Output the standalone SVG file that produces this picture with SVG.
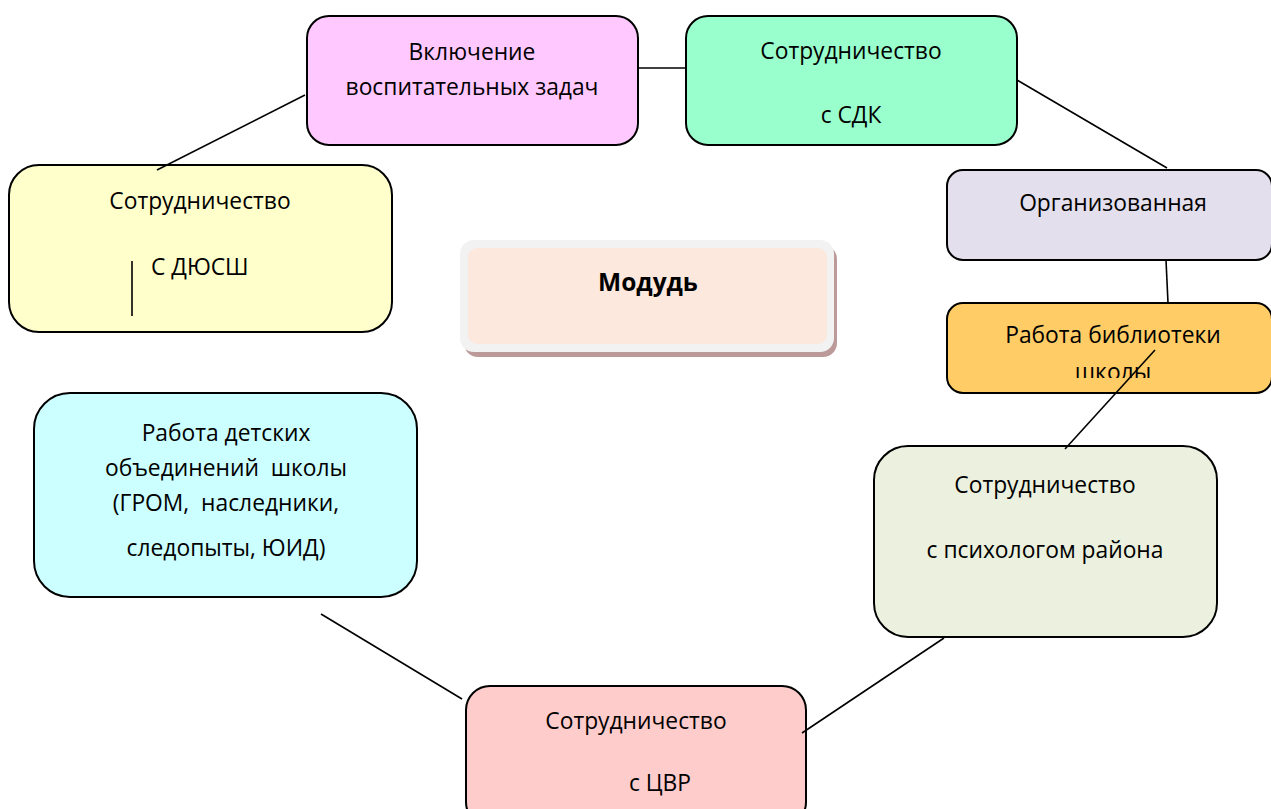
<svg xmlns="http://www.w3.org/2000/svg" width="1271" height="809" viewBox="0 0 1271 809">
<defs>
<style>
.box{stroke:#000;stroke-width:2}
.t{font-family:"Open Sans","Noto Sans","Liberation Sans",sans-serif;font-size:22.8px;fill:#000;text-anchor:middle}
.c{stroke:#000;stroke-width:1.6;fill:none}
</style>
<clipPath id="clipLib"><rect x="947" y="303" width="330" height="75"/></clipPath>
</defs>
<rect width="1271" height="809" fill="#fff"/>
<g id="node-vkl">
<rect class="box" x="307" y="16" width="331" height="129" rx="22" fill="#ffc9ff"/>
<text class="t" x="472" y="60">Включение</text>
<text class="t" x="472" y="95">воспитательных задач</text>
</g>
<g id="node-sdk">
<rect class="box" x="686" y="16" width="331" height="129" rx="22" fill="#99ffcc"/>
<text class="t" x="851" y="59">Сотрудничество</text>
<text class="t" x="851" y="123">с СДК</text>
</g>
<g id="node-dyussh">
<rect class="box" x="9" y="165" width="383" height="167" rx="30" fill="#ffffcc"/>
<text class="t" x="200" y="209">Сотрудничество</text>
<text class="t" x="151" y="275" style="text-anchor:start">С ДЮСШ</text>
<line class="c" x1="132" y1="261" x2="132" y2="316"/>
</g>
<g id="node-org">
<rect class="box" x="947" y="170" width="325" height="90" rx="16" fill="#e4dfec"/>
<text class="t" x="1113" y="211">Организованная</text>
</g>
<g id="node-lib">
<rect class="box" x="947" y="303" width="325" height="90" rx="16" fill="#ffcc66"/>
<g clip-path="url(#clipLib)">
<text class="t" x="1113" y="343">Работа библиотеки</text>
<text class="t" x="1113" y="380">школы</text>
</g>
</g>
<g id="node-psych">
<rect class="box" x="874" y="446" width="343" height="191" rx="34" fill="#ebf1de"/>
<text class="t" x="1045" y="493">Сотрудничество</text>
<text class="t" x="1045" y="558">с психологом района</text>
</g>
<g id="node-detsk">
<rect class="box" x="34" y="393" width="383" height="204" rx="36" fill="#ccffff"/>
<text class="t" x="226" y="441">Работа детских</text>
<text class="t" x="226" y="476" xml:space="preserve">объединений  школы</text>
<text class="t" x="226" y="511" xml:space="preserve">(ГРОМ,  наследники,</text>
<text class="t" x="226" y="556">следопыты, ЮИД)</text>
</g>
<g id="node-cvr">
<rect class="box" x="466" y="686" width="340" height="140" rx="24" fill="#ffcccc"/>
<text class="t" x="636" y="729">Сотрудничество</text>
<text class="t" x="660" y="791">с ЦВР</text>
</g>
<g id="node-modul">
<rect x="464" y="245" width="373" height="112" rx="14" fill="#bc9a9a"/>
<rect x="460" y="240" width="374" height="112" rx="14" fill="#f2f2f2"/>
<rect x="468" y="248" width="359" height="96" rx="9" fill="#fce8dc"/>
<text class="t" x="648" y="291" style="font-weight:bold;font-size:24.5px">Модудь</text>
</g>
<g id="connectors">
<line class="c" x1="305" y1="95" x2="157" y2="170"/>
<line class="c" x1="638" y1="68" x2="686" y2="68"/>
<line class="c" x1="1017" y1="80" x2="1167" y2="168"/>
<line class="c" x1="1166" y1="260" x2="1168" y2="303"/>
<line class="c" x1="1155" y1="350" x2="1065" y2="449"/>
<line class="c" x1="321" y1="614" x2="462" y2="699"/>
<line class="c" x1="944" y1="638" x2="802" y2="733"/>
</g>
</svg>
